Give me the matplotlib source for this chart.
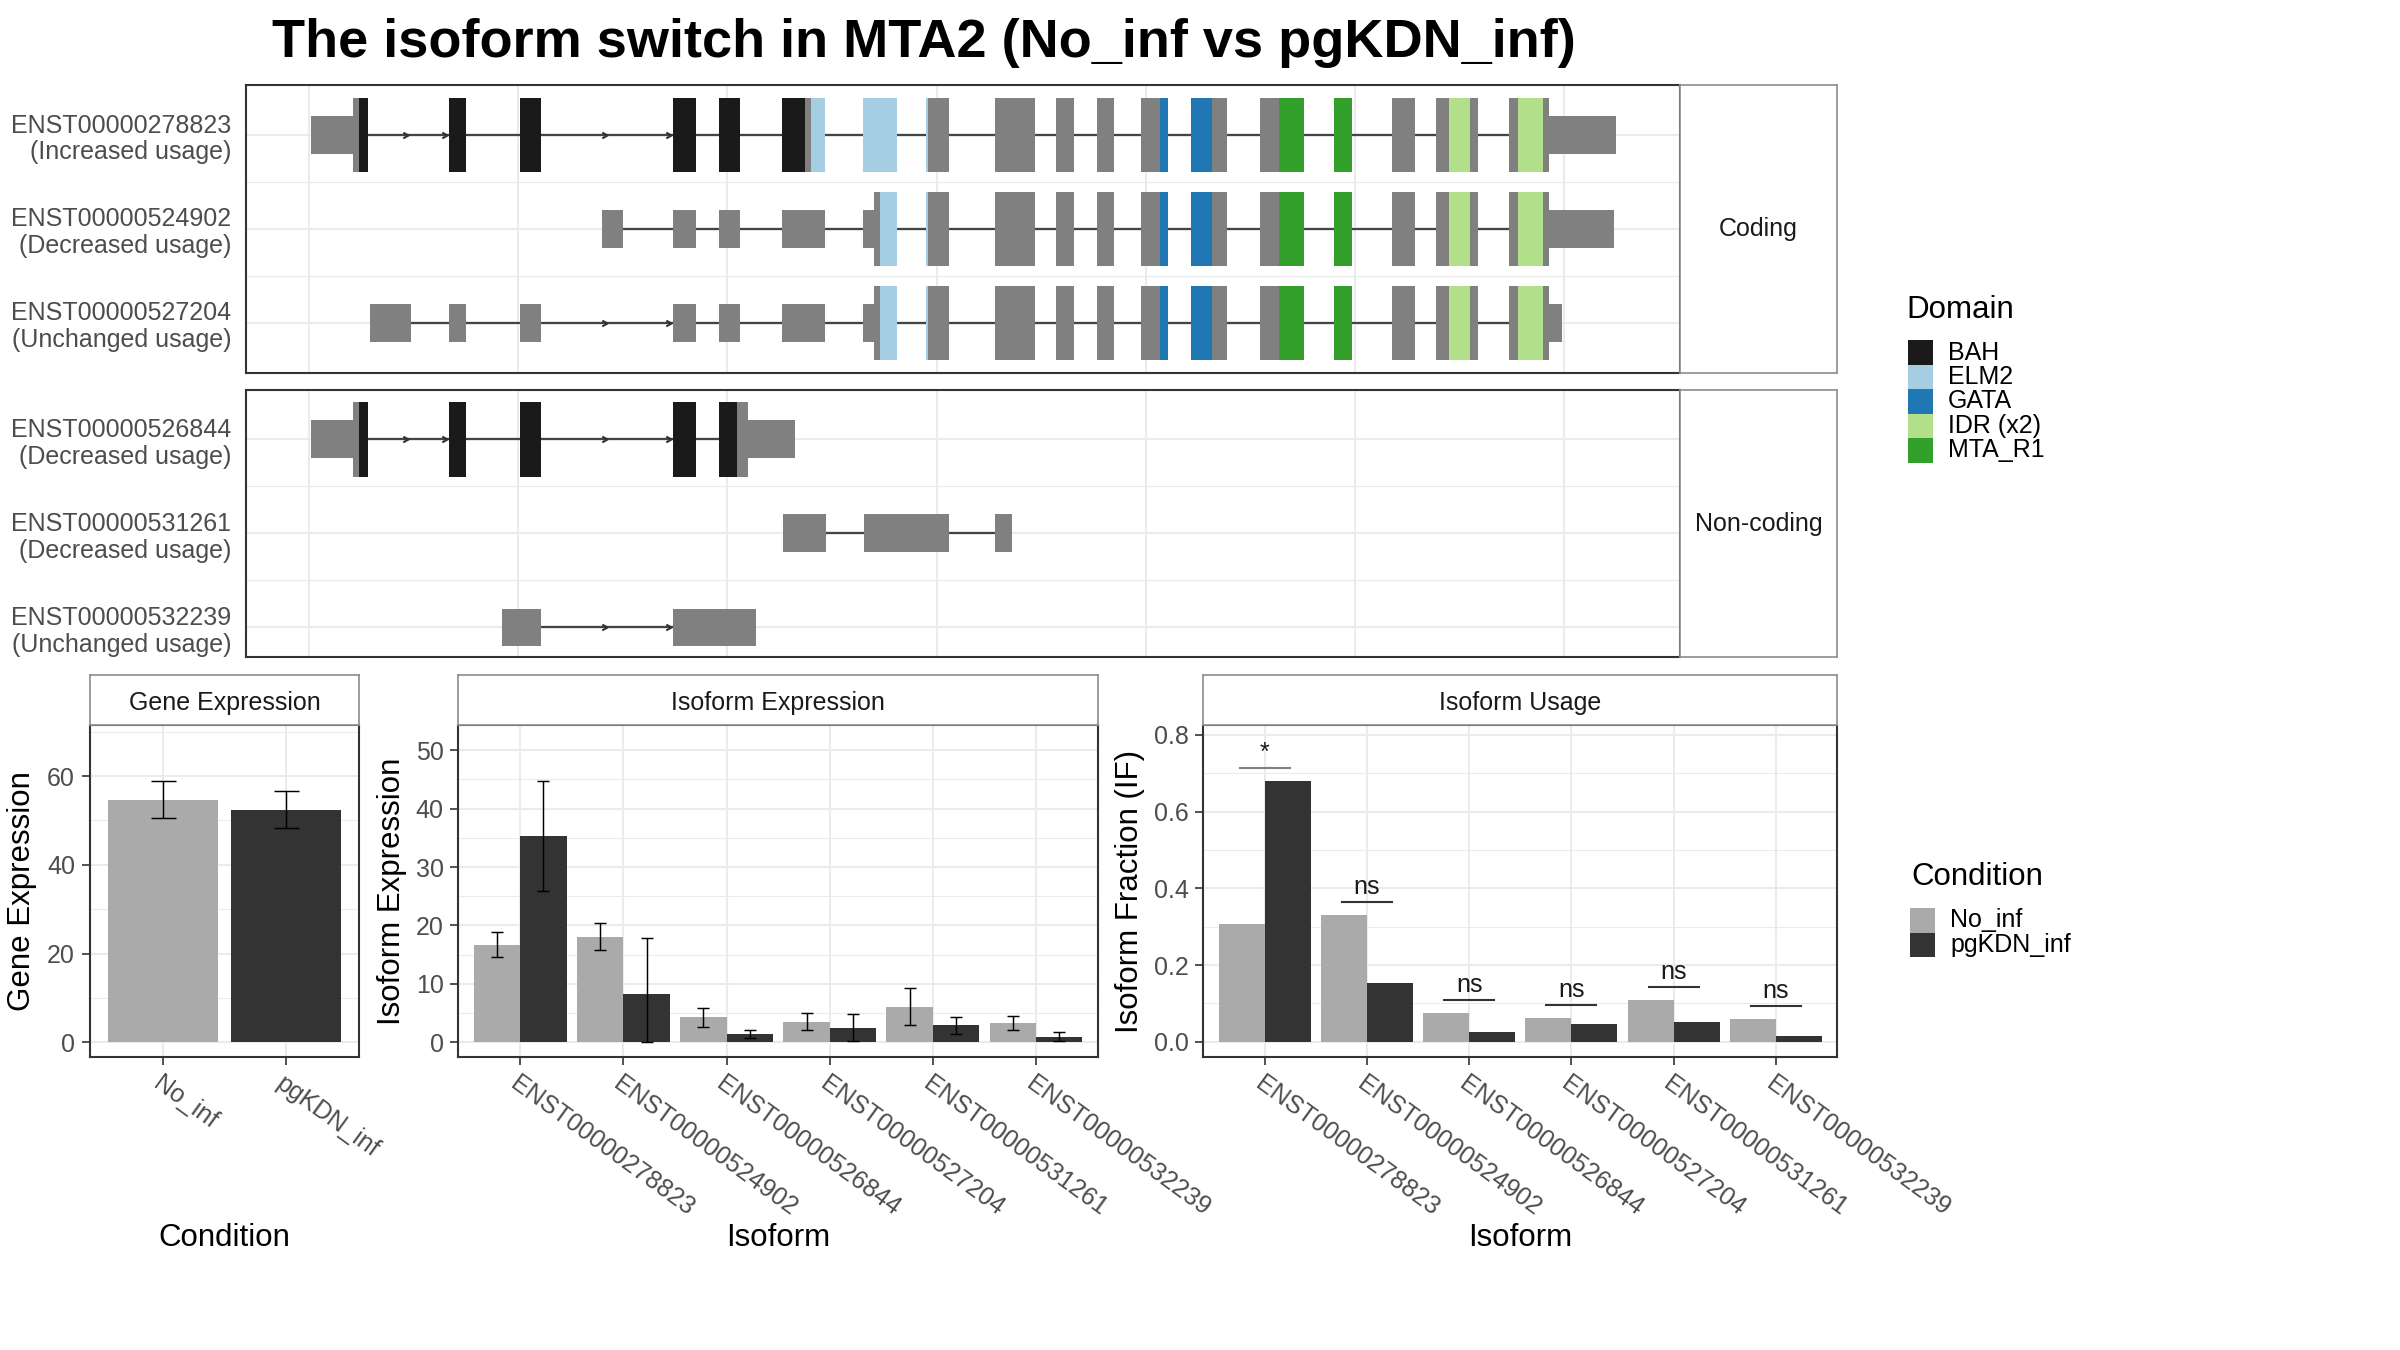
import numpy as np
import matplotlib
matplotlib.use('Agg')
import matplotlib.pyplot as plt
from matplotlib.patches import Rectangle
from matplotlib.path import Path

plt.rcParams['font.family'] = ['Liberation Sans', 'DejaVu Sans']

# ---- transcript structures (x in kb, relative to gene start) ----
domain_colors = {'BAH': '#1A1A1A', 'ELM2': '#A6CEE3', 'GATA': '#1F78B4',
                 'IDR (x2)': '#B2DF8A', 'MTA_R1': '#33A02C'}

shared_tail = [(32.79, 34.70), (35.71, 36.57), (37.67, 38.48), (39.77, 41.06),
               (42.16, 43.88), (45.46, 47.56), (49.00, 49.86), (51.77, 52.87),
               (53.87, 55.88)]
tail_domains = [('GATA', 40.68, 43.16), ('MTA_R1', 46.37, 49.86),
                ('IDR (x2)', 54.49, 55.50), ('IDR (x2)', 57.79, 58.99)]

tx_278823 = dict(
    exons=[(0.10, 2.82), (6.69, 7.50), (10.09, 11.09), (17.40, 18.50), (19.60, 20.60),
           (22.61, 24.67), (26.48, 28.11), (29.49, 30.59)] + shared_tail + [(57.36, 62.48)],
    cds=(2.10, 59.27),
    domains=[('BAH', 2.39, 23.71), ('ELM2', 24.00, 29.59)] + tail_domains)
tx_524902 = dict(
    exons=[(14.01, 15.01), (17.40, 18.50), (19.60, 20.60), (22.61, 24.67), (26.48, 28.11),
           (29.49, 30.59)] + shared_tail + [(57.36, 62.38)],
    cds=(27.01, 59.27),
    domains=[('ELM2', 27.29, 29.59)] + tail_domains)
tx_527204 = dict(
    exons=[(2.92, 4.88), (6.69, 7.50), (10.09, 11.09), (17.40, 18.50), (19.60, 20.60),
           (22.61, 24.67), (26.48, 28.11), (29.49, 30.59)] + shared_tail + [(57.36, 59.89)],
    cds=(27.01, 59.27),
    domains=[('ELM2', 27.29, 29.59)] + tail_domains)
tx_526844 = dict(
    exons=[(0.10, 2.82), (6.69, 7.50), (10.09, 11.09), (17.40, 18.50), (19.60, 23.22)],
    cds=(2.10, 20.98),
    domains=[('BAH', 2.39, 20.47)])
tx_531261 = dict(exons=[(22.64, 24.71), (26.52, 30.61), (32.79, 33.62)], cds=None, domains=[])
tx_532239 = dict(exons=[(9.22, 11.10), (17.42, 21.39)], cds=None, domains=[])

coding_labels = ['ENST00000278823\n(Increased usage)', 'ENST00000524902\n(Decreased usage)',
                 'ENST00000527204\n(Unchanged usage)']
coding_tx = [tx_278823, tx_524902, tx_527204]
noncoding_labels = ['ENST00000526844\n(Decreased usage)', 'ENST00000531261\n(Decreased usage)',
                    'ENST00000532239\n(Unchanged usage)']
noncoding_tx = [tx_526844, tx_531261, tx_532239]

# ---- expression data ----
conditions = ['No_inf', 'pgKDN_inf']
gene_expr = [54.6, 52.3]
gene_lo = [50.5, 48.3]
gene_hi = [58.9, 56.7]

isoforms = ['ENST00000278823', 'ENST00000524902', 'ENST00000526844',
            'ENST00000527204', 'ENST00000531261', 'ENST00000532239']
iso_no = [16.6, 18.0, 4.3, 3.5, 6.0, 3.3]
iso_no_lo = [14.6, 15.8, 2.7, 2.1, 3.0, 2.05]
iso_no_hi = [18.8, 20.4, 5.9, 5.0, 9.3, 4.45]
iso_pg = [35.3, 8.3, 1.4, 2.45, 2.95, 0.9]
iso_pg_lo = [25.9, 0.0, 0.8, 0.27, 1.47, 0.27]
iso_pg_hi = [44.75, 17.8, 2.05, 4.8, 4.4, 1.75]

if_no = [0.307, 0.330, 0.075, 0.062, 0.109, 0.059]
if_pg = [0.680, 0.153, 0.025, 0.046, 0.051, 0.015]
if_sig = ['*', 'ns', 'ns', 'ns', 'ns', 'ns']

C_NO = '#AAAAAA'
C_PG = '#333333'
EXON_GREY = '#808080'
GRID = '#EBEBEB'
TICK_TXT = '#4D4D4D'

W, H = 2400, 1350
fig = plt.figure(figsize=(16, 9), dpi=150)


def px_axes(left, top, right, bottom, **kw):
    return fig.add_axes([left / W, 1 - bottom / H, (right - left) / W, (bottom - top) / H], **kw)


chevron = Path([(-1, 0.55), (0, 0), (-1, -0.55)], [Path.MOVETO, Path.LINETO, Path.LINETO])
TALL = 0.397
SHORT = 0.2


def box(ax, s, e, y, h, color):
    if e > s:
        ax.add_patch(Rectangle((s, y - h), e - s, 2 * h, facecolor=color, edgecolor='none',
                               lw=0, zorder=3))


def draw_transcript(ax, y, tx):
    exons = tx['exons']
    for (s0, e0), (s1, e1) in zip(exons[:-1], exons[1:]):
        ax.plot([e0, s1], [y, y], color='#444444', lw=1.1, zorder=2, solid_capstyle='butt')
        if s1 - e0 > 3.5:
            for xa in [(e0 + s1) / 2, s1 - 0.1]:
                ax.plot(xa, y, marker=chevron, ms=5, mfc='none', mec='#333333', mew=1.0,
                        zorder=2)
    cds = tx['cds']
    for s, e in exons:
        if cds is None:
            box(ax, s, e, y, SHORT, EXON_GREY)
            continue
        cs, ce = cds
        box(ax, s, min(e, cs), y, SHORT, EXON_GREY)
        box(ax, max(s, ce), e, y, SHORT, EXON_GREY)
        a, b = max(s, cs), min(e, ce)
        if b > a:
            box(ax, a, b, y, TALL, EXON_GREY)
            for name, ds, de in tx['domains']:
                box(ax, max(a, ds), min(b, de), y, TALL, domain_colors[name])


def transcript_panel(top, bottom, ylim, labels, txs, strip_text):
    ax = px_axes(246, top, 1680, bottom)
    ax.set_xlim(-3.01, 65.54)
    ax.set_ylim(*ylim)
    ax.set_xticks(np.arange(0, 61, 10))
    ax.set_yticks([3, 2, 1])
    ax.set_yticks([1.5, 2.5], minor=True)
    ax.set_yticklabels(labels, fontsize=12, color=TICK_TXT, linespacing=1.15)
    ax.tick_params(axis='y', which='both', length=0, pad=7)
    ax.tick_params(axis='x', which='both', length=0, labelbottom=False)
    ax.grid(which='major', color=GRID, lw=1.0)
    ax.grid(which='minor', axis='y', color=GRID, lw=0.6)
    ax.set_axisbelow(True)
    for sp in ax.spines.values():
        sp.set_color('#333333')
        sp.set_linewidth(1.0)
    for y, tx in zip([3, 2, 1], txs):
        draw_transcript(ax, y, tx)
    st = px_axes(1680, top, 1837, bottom)
    st.set_xticks([])
    st.set_yticks([])
    for sp in st.spines.values():
        sp.set_color('#8C8C8C')
        sp.set_linewidth(0.8)
    st.text(0.5, 0.5, strip_text, ha='center', va='center', fontsize=12, color='#1A1A1A',
            transform=st.transAxes)


transcript_panel(85, 372.7, (0.471, 3.532), coding_labels, coding_tx, 'Coding')
transcript_panel(390, 657.3, (0.681, 3.524), noncoding_labels, noncoding_tx, 'Non-coding')


def bar_panel(left, right, title, ylim, yticks, yminor, xlabels):
    ax = px_axes(left, 725, right, 1056.7)
    st = px_axes(left, 675, right, 725)
    st.set_xticks([])
    st.set_yticks([])
    for sp in st.spines.values():
        sp.set_color('#8C8C8C')
        sp.set_linewidth(0.8)
    st.text(0.5, 0.45, title, ha='center', va='center', fontsize=12, color='#1A1A1A',
            transform=st.transAxes)
    n = len(xlabels)
    ax.set_xlim(0.4, n + 0.6)
    ax.set_ylim(*ylim)
    ax.set_xticks(np.arange(1, n + 1))
    ax.set_xticklabels(xlabels, rotation=-36, ha='left', va='top', rotation_mode='anchor',
                       fontsize=12, color=TICK_TXT)
    ax.set_yticks(yticks)
    ax.set_yticks(yminor, minor=True)
    ax.tick_params(axis='both', which='major', length=4, width=0.8, color='#333333',
                   labelsize=12, labelcolor=TICK_TXT, pad=3)
    ax.tick_params(axis='y', which='minor', length=0)
    ax.grid(which='major', color=GRID, lw=1.0)
    ax.grid(which='minor', axis='y', color=GRID, lw=0.5)
    ax.set_axisbelow(True)
    for sp in ax.spines.values():
        sp.set_color('#333333')
        sp.set_linewidth(1.0)
    return ax


# Gene expression
ax_g = bar_panel(89.5, 359.4, 'Gene Expression', (-3.24, 71.5), [0, 20, 40, 60],
                 [10, 30, 50, 70], conditions)
xg = np.arange(1, 3)
ax_g.bar(xg, gene_expr, width=0.9, color=[C_NO, C_PG], zorder=2)
ge = np.array(gene_expr)
ax_g.errorbar(xg, ge, yerr=[ge - np.array(gene_lo), np.array(gene_hi) - ge], fmt='none',
              ecolor='black', elinewidth=0.7, capsize=6, capthick=0.7, zorder=3)

# Isoform expression
ax_i = bar_panel(458.4, 1097.9, 'Isoform Expression', (-2.46, 54.3), np.arange(0, 51, 10),
                 np.arange(5, 51, 10), isoforms)
xi = np.arange(1, len(isoforms) + 1)
for off, vals, lo, hi, col in [(-0.225, iso_no, iso_no_lo, iso_no_hi, C_NO),
                               (0.225, iso_pg, iso_pg_lo, iso_pg_hi, C_PG)]:
    v = np.array(vals)
    ax_i.bar(xi + off, v, width=0.45, color=col, zorder=2)
    ax_i.errorbar(xi + off, v, yerr=[v - np.array(lo), np.array(hi) - v], fmt='none',
                  ecolor='black', elinewidth=0.7, capsize=3, capthick=0.7, zorder=3)

# Isoform usage
ax_u = bar_panel(1203.4, 1837.2, 'Isoform Usage', (-0.039, 0.826),
                 [0.0, 0.2, 0.4, 0.6, 0.8], [0.1, 0.3, 0.5, 0.7], isoforms)
ax_u.set_yticklabels(['0.0', '0.2', '0.4', '0.6', '0.8'])
ax_u.bar(xi - 0.225, if_no, width=0.45, color=C_NO, zorder=2)
ax_u.bar(xi + 0.225, if_pg, width=0.45, color=C_PG, zorder=2)
for x, a, b, s in zip(xi, if_no, if_pg, if_sig):
    yl = max(a, b) + 0.035
    lc = '#808080' if s == '*' else '#333333'
    ax_u.plot([x - 0.245, x + 0.245], [yl, yl], color=lc, lw=1.0, zorder=3)
    ax_u.text(x, yl + 0.006, s, ha='center', va='bottom', fontsize=12, color='#1A1A1A')

# ---- overlay for titles, axis titles and legends (pixel coordinates) ----
ov = fig.add_axes([0, 0, 1, 1])
ov.set_xlim(0, W)
ov.set_ylim(H, 0)
ov.axis('off')
ov.patch.set_visible(False)

ov.text(272, 43, 'The isoform switch in MTA2 (No_inf vs pgKDN_inf)', ha='left', va='center',
        fontsize=26, fontweight='bold', color='black')

for x, txt in [(22, 'Gene Expression'), (392, 'Isoform Expression'),
               (1130, 'Isoform Fraction (IF)')]:
    ov.text(x, 891, txt, rotation=90, ha='center', va='center', fontsize=15, color='black')
for x, txt in [(224.5, 'Condition'), (778, 'Isoform'), (1520, 'Isoform')]:
    ov.text(x, 1238, txt, ha='center', va='center', fontsize=15, color='black')

# Domain legend
ov.text(1906, 310, 'Domain', ha='left', va='center', fontsize=15, color='black')
for k, name in enumerate(domain_colors):
    y0 = 340 + k * 24.5
    ov.add_patch(Rectangle((1908, y0), 24.5, 24.5, facecolor=domain_colors[name],
                           edgecolor='none'))
    ov.text(1948, y0 + 12.5, name, ha='left', va='center', fontsize=12, color='black')

# Condition legend
ov.text(1911, 877, 'Condition', ha='left', va='center', fontsize=15, color='black')
for k, (name, col) in enumerate(zip(conditions, [C_NO, C_PG])):
    y0 = 908 + k * 24.5
    ov.add_patch(Rectangle((1910, y0), 24.5, 24.5, facecolor=col, edgecolor='none'))
    ov.text(1950, y0 + 12.5, name, ha='left', va='center', fontsize=12, color='black')

fig.savefig('out.png', dpi=150, facecolor='white')
